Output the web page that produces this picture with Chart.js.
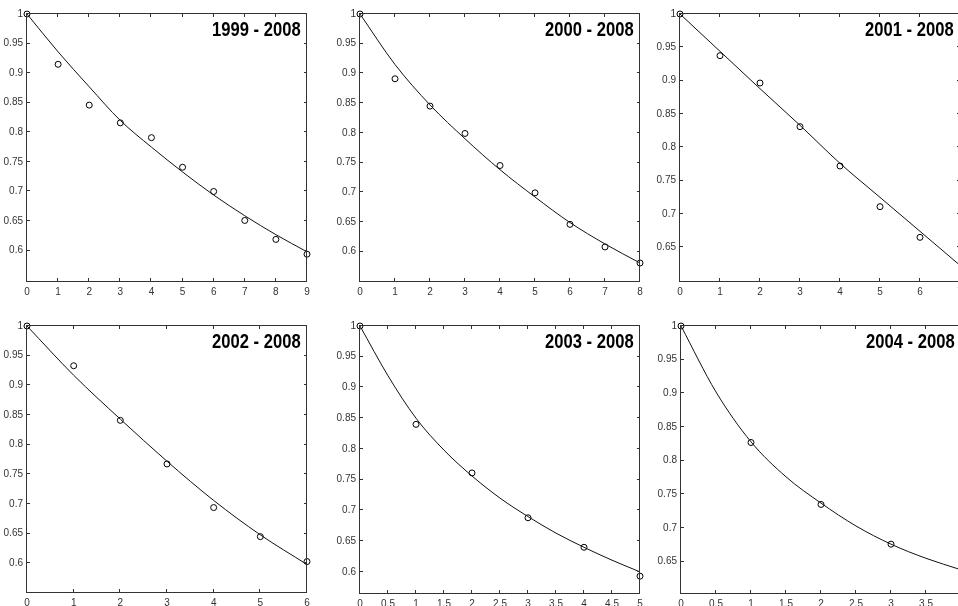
<!DOCTYPE html>
<html>
<head>
<meta charset="utf-8">
<script src="https://cdn.jsdelivr.net/npm/chart.js@4.4.1/dist/chart.umd.min.js"></script>
<style>
  html, body { margin: 0; padding: 0; background: #fff; overflow: hidden; }
  body { width: 958px; height: 606px; position: relative; }
  canvas { position: absolute; }
</style>
</head>
<body>
<canvas id="p1"></canvas>
<canvas id="p2"></canvas>
<canvas id="p3"></canvas>
<canvas id="p4"></canvas>
<canvas id="p5"></canvas>
<canvas id="p6"></canvas>
<script>
// tick labels
var yTicksLow = [0.6, 0.65, 0.7, 0.75, 0.8, 0.85, 0.9, 0.95, 1];
var yTicksHigh = [0.65, 0.7, 0.75, 0.8, 0.85, 0.9, 0.95, 1];

// 1999 - 2008
var obsX1999 = [0, 1, 2, 3, 4, 5, 6, 7, 8, 9];
var obsY1999 = [1.0, 0.915, 0.846, 0.816, 0.791, 0.741, 0.700, 0.651, 0.619, 0.594];
var fitX1999 = [0, 1, 2, 3, 4, 5, 6, 7, 8, 9];
var fitY1999 = [1.0, 0.936, 0.877, 0.820, 0.775, 0.733, 0.694, 0.659, 0.627, 0.598];

// 2000 - 2008
var obsX2000 = [0, 1, 2, 3, 4, 5, 6, 7, 8];
var obsY2000 = [1.0, 0.891, 0.845, 0.799, 0.745, 0.699, 0.646, 0.608, 0.581];
var fitX2000 = [0, 1, 2, 3, 4, 5, 6, 7, 8];
var fitY2000 = [1.0, 0.915, 0.847, 0.790, 0.738, 0.692, 0.649, 0.613, 0.581];

// 2001 - 2008
var obsX2001 = [0, 1, 2, 3, 4, 5, 6];
var obsY2001 = [1.0, 0.9375, 0.8965, 0.831, 0.772, 0.711, 0.665];
var fitX2001 = [0, 1, 2, 3, 4, 5, 6, 7];
var fitY2001 = [1.0, 0.944, 0.888, 0.833, 0.776, 0.725, 0.674, 0.623];

// 2002 - 2008
var obsX2002 = [0, 1, 2, 3, 4, 5, 6];
var obsY2002 = [1.0, 0.933, 0.841, 0.7675, 0.694, 0.645, 0.603];
var fitX2002 = [0, 1, 2, 3, 4, 5, 6];
var fitY2002 = [1.0, 0.917, 0.843, 0.772, 0.706, 0.648, 0.598];

// 2003 - 2008
var obsX2003 = [0, 1, 2, 3, 4, 5];
var obsY2003 = [1.0, 0.840, 0.761, 0.688, 0.640, 0.593];
var fitX2003 = [0, 0.5, 1, 1.5, 2, 2.5, 3, 3.5, 4, 4.5, 5];
var fitY2003 = [1.0, 0.919, 0.850, 0.798, 0.756, 0.720, 0.690, 0.663, 0.640, 0.619, 0.600];

// 2004 - 2008
var obsX2004 = [0, 1, 2, 3];
var obsY2004 = [1.0, 0.827, 0.735, 0.676];
var fitX2004 = [0, 0.5, 1, 1.5, 2, 2.5, 3, 3.5, 4];
var fitY2004 = [1.0, 0.902, 0.828, 0.776, 0.737, 0.703, 0.676, 0.655, 0.638];

var labelFont = { family: "'Liberation Sans', Arial, sans-serif", size: 10 };
var titleFont = "bold 20px 'Liberation Sans', Arial, sans-serif";
var axisColor = "#333333";

function fmt(v) {
    return String(Math.round(v * 100) / 100);
}

// box round the plot, inward ticks and the in-plot title
var boxPlugin = {
    id: "matlabBox",
    afterDraw: function(chart, args, opts) {
        var ctx = chart.ctx;
        var a = chart.chartArea;
        ctx.save();
        ctx.strokeStyle = axisColor;
        ctx.lineWidth = 1;
        ctx.strokeRect(a.left - 0.5, a.top - 0.5, a.right - a.left, a.bottom - a.top);
        ctx.beginPath();
        chart.scales.x.ticks.forEach(function(t) {
            var px = Math.round(chart.scales.x.getPixelForValue(t.value)) - 0.5;
            ctx.moveTo(px, a.bottom); ctx.lineTo(px, a.bottom - 4);
            ctx.moveTo(px, a.top); ctx.lineTo(px, a.top + 3);
        });
        chart.scales.y.ticks.forEach(function(t) {
            var py = Math.round(chart.scales.y.getPixelForValue(t.value)) - 0.5;
            ctx.moveTo(a.left, py); ctx.lineTo(a.left + 3, py);
            ctx.moveTo(a.right, py); ctx.lineTo(a.right - 3, py);
        });
        ctx.stroke();
        // narrow bold title, squeezed sideways like the original
        ctx.fillStyle = "#000";
        ctx.font = titleFont;
        ctx.textAlign = "left";
        ctx.textBaseline = "alphabetic";
        ctx.translate(a.left + 185, a.top + 22);
        ctx.scale(0.83, 1);
        ctx.fillText(opts.text, 0, 0);
        ctx.restore();
    }
};

function makePanel(id, box, title, xMax, xStep, yMin, yTicks, obsX, obsY, fitX, fitY) {
    var padL = 30, padT = 10, padR = 10, padB = 22;
    var canvas = document.getElementById(id);
    canvas.width = box[2] + padL + padR;
    canvas.height = box[3] + padT + padB;
    canvas.style.left = (box[0] - padL) + "px";
    canvas.style.top = (box[1] - padT) + "px";

    var points = obsX.map(function(x, i) { return { x: x, y: obsY[i] }; });
    var curve = fitX.map(function(x, i) { return { x: x, y: fitY[i] }; });

    new Chart(canvas.getContext("2d"), {
        type: "scatter",
        data: {
            datasets: [{
                data: curve,
                showLine: true,
                borderColor: "#111",
                borderWidth: 1,
                pointRadius: 0,
                cubicInterpolationMode: "monotone",
                clip: false
            }, {
                data: points,
                pointStyle: "circle",
                pointRadius: 3,
                borderColor: "#000",
                backgroundColor: "rgba(0,0,0,0)",
                borderWidth: 1,
                clip: false
            }]
        },
        options: {
            responsive: false,
            animation: false,
            events: [],
            layout: { padding: { top: padT, right: padR, left: 0, bottom: 0 } },
            plugins: {
                legend: { display: false },
                tooltip: { enabled: false },
                matlabBox: { text: title }
            },
            scales: {
                x: {
                    type: "linear",
                    min: 0,
                    max: xMax,
                    grid: { display: false, drawTicks: false },
                    border: { display: false },
                    ticks: {
                        stepSize: xStep,
                        autoSkip: false,
                        maxRotation: 0,
                        padding: 4,
                        color: axisColor,
                        font: labelFont,
                        callback: function(v) { return fmt(v); }
                    },
                    afterFit: function(s) { s.height = padB; }
                },
                y: {
                    type: "linear",
                    min: yMin,
                    max: 1,
                    grid: { display: false, drawTicks: false },
                    border: { display: false },
                    afterBuildTicks: function(s) {
                        s.ticks = yTicks.map(function(v) { return { value: v }; });
                    },
                    ticks: {
                        autoSkip: false,
                        padding: 4,
                        color: axisColor,
                        font: labelFont,
                        callback: function(v) { return fmt(v); }
                    },
                    afterFit: function(s) { s.width = padL; }
                }
            }
        },
        plugins: [boxPlugin]
    });
}

makePanel("p1", [27, 14, 280, 268], "1999 - 2008", 9, 1, 0.547, yTicksLow, obsX1999, obsY1999, fitX1999, fitY1999);
makePanel("p2", [360, 14, 280, 268], "2000 - 2008", 8, 1, 0.549, yTicksLow, obsX2000, obsY2000, fitX2000, fitY2000);
makePanel("p3", [680, 14, 280, 268], "2001 - 2008", 7, 1, 0.598, yTicksHigh, obsX2001, obsY2001, fitX2001, fitY2001);
makePanel("p4", [27, 326, 280, 267], "2002 - 2008", 6, 1, 0.550, yTicksLow, obsX2002, obsY2002, fitX2002, fitY2002);
makePanel("p5", [360, 326, 280, 268], "2003 - 2008", 5, 0.5, 0.564, yTicksLow, obsX2003, obsY2003, fitX2003, fitY2003);
makePanel("p6", [681, 326, 280, 268], "2004 - 2008", 4, 0.5, 0.602, yTicksHigh, obsX2004, obsY2004, fitX2004, fitY2004);
</script>
</body>
</html>
